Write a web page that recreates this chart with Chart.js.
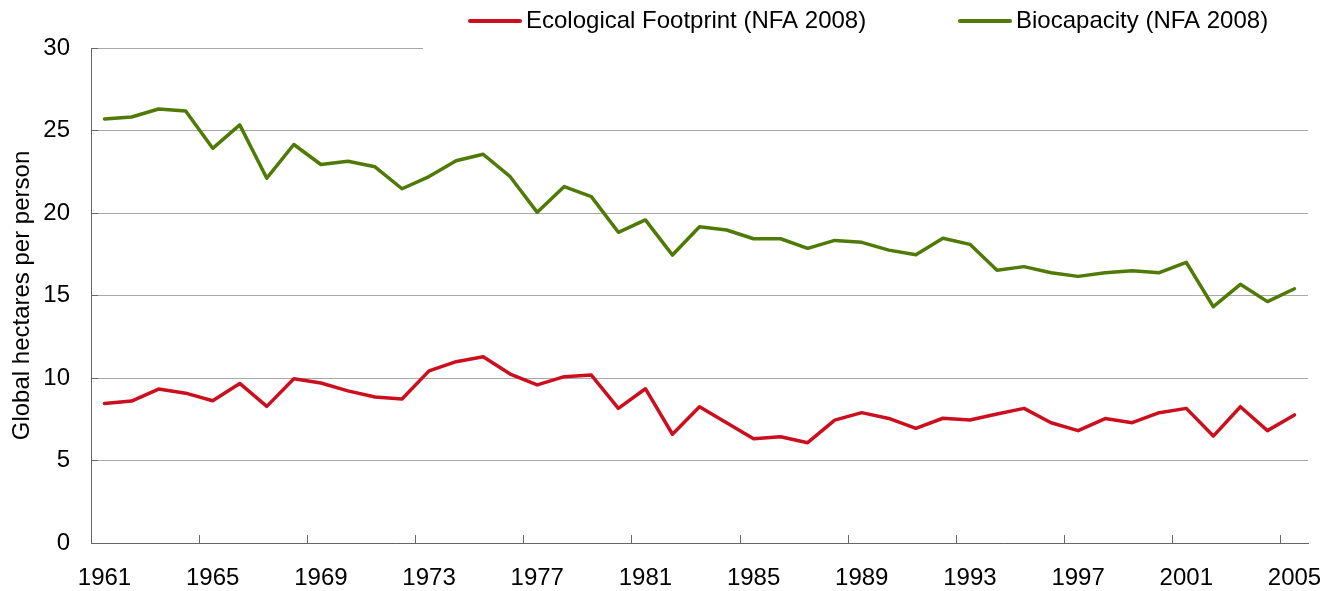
<!DOCTYPE html>
<html>
<head>
<meta charset="utf-8">
<title>Ecological Footprint vs Biocapacity</title>
<script src="https://cdn.jsdelivr.net/npm/chart.js@4/dist/chart.umd.min.js"></script>
<style>
  html, body { margin: 0; padding: 0; background: #fff; }
  #wrap { width: 1328px; height: 591px; position: relative; }
</style>
</head>
<body>
<div id="wrap"><canvas id="chart"></canvas></div>
<script>
// ─── Data ─────────────────────────────────────────────────────────────────────

const YEARS = [
  "1961", "1962", "1963", "1964", "1965", "1966", "1967", "1968", "1969", "1970",
  "1971", "1972", "1973", "1974", "1975", "1976", "1977", "1978", "1979", "1980",
  "1981", "1982", "1983", "1984", "1985", "1986", "1987", "1988", "1989", "1990",
  "1991", "1992", "1993", "1994", "1995", "1996", "1997", "1998", "1999", "2000",
  "2001", "2002", "2003", "2004", "2005",
];

const FOOTPRINT = [
  8.46, 8.60, 9.33, 9.08, 8.62, 9.67, 8.28, 9.95, 9.70, 9.22,
  8.85, 8.73, 10.43, 10.99, 11.29, 10.24, 9.58, 10.08, 10.18, 8.16,
  9.35, 6.59, 8.26, 7.29, 6.32, 6.44, 6.08, 7.45, 7.90, 7.55,
  6.95, 7.56, 7.45, 7.82, 8.16, 7.29, 6.81, 7.54, 7.29, 7.90,
  8.16, 6.48, 8.26, 6.81, 7.76,
];

const BIOCAPACITY = [
  25.70, 25.82, 26.30, 26.18, 23.92, 25.34, 22.11, 24.15, 22.94, 23.14,
  22.80, 21.47, 22.21, 23.17, 23.56, 22.20, 20.04, 21.60, 20.99, 18.83,
  19.58, 17.45, 19.17, 18.97, 18.44, 18.44, 17.86, 18.34, 18.22, 17.75,
  17.47, 18.47, 18.10, 16.53, 16.75, 16.38, 16.16, 16.38, 16.50, 16.38,
  17.01, 14.32, 15.68, 14.63, 15.41,
];

const SERIES_LABELS = ["Ecological Footprint (NFA 2008)", "Biocapacity (NFA 2008)"];
const LABELED_YEARS = ["1961", "1965", "1969", "1973", "1977", "1981", "1985", "1989", "1993", "1997", "2001", "2005"];
const Y_MIN = 0;
const Y_MAX = 30;
const Y_STEP = 5;
const Y_TITLE = "Global hectares per person";

// ─── Style ────────────────────────────────────────────────────────────────────

const FONT_FAMILY = "'Liberation Sans', Arial, sans-serif";
const FONT_SIZE   = 24;
const RED         = "#CC0F1E";
const GREEN       = "#4F7A06";
const GRID_COLOR  = "#a8a8a8";
const AXIS_COLOR  = "#666666";
const TEXT_COLOR  = "#000000";

// ─── Plugins ──────────────────────────────────────────────────────────────────

// white legend box sitting over the top gridline, like the source chart
const legendBoxPlugin = {
  id: "legendBox",
  beforeDatasetsDraw(chart) {
    const { ctx, chartArea } = chart;
    ctx.save();
    ctx.fillStyle = "#fff";
    ctx.fillRect(423, 0, chartArea.right - 423 + 2, chartArea.top + 2);
    ctx.restore();
  },
};

// line-sample legend drawn by hand so the spacing matches
const LEGEND_X = [470, 960];
const legendPlugin = {
  id: "lineLegend",
  afterDraw(chart) {
    const { ctx } = chart;
    ctx.save();
    ctx.font = `${FONT_SIZE}px ${FONT_FAMILY}`;
    ctx.textBaseline = "alphabetic";
    ctx.textAlign = "left";
    chart.data.datasets.forEach((ds, i) => {
      const x = LEGEND_X[i];
      ctx.strokeStyle = ds.borderColor;
      ctx.lineWidth = 4;
      ctx.lineCap = "round";
      ctx.beginPath();
      ctx.moveTo(x, 21);
      ctx.lineTo(x + 50, 21);
      ctx.stroke();
      ctx.fillStyle = TEXT_COLOR;
      ctx.fillText(ds.label, x + 56, 27.5);
    });
    ctx.restore();
  },
};

// ─── Chart ────────────────────────────────────────────────────────────────────

function buildDataset(label, data, color) {
  return {
    label,
    data,
    borderColor: color,
    backgroundColor: color,
    borderWidth: 3.5,
    borderJoinStyle: "round",
    borderCapStyle: "round",
    tension: 0,
    pointRadius: 0,
    pointHoverRadius: 0,
    fill: false,
  };
}

const tickFont = { family: FONT_FAMILY, size: FONT_SIZE };

new Chart(document.getElementById("chart").getContext("2d"), {
  type: "line",
  data: {
    labels: YEARS,
    datasets: [
      buildDataset(SERIES_LABELS[0], FOOTPRINT, RED),
      buildDataset(SERIES_LABELS[1], BIOCAPACITY, GREEN),
    ],
  },
  options: {
    responsive: true,
    maintainAspectRatio: false,
    animation: false,
    layout: { padding: { top: 48, right: 20, left: 0, bottom: 0 } },
    plugins: {
      legend: { display: false },
      tooltip: { enabled: false },
    },
    scales: {
      x: {
        type: "category",
        offset: true,
        afterFit: (s) => {
          s.height = 48;
          s.paddingLeft = 0;
          s.paddingRight = 0;
        },
        grid: {
          offset: true,
          drawOnChartArea: false,
          drawTicks: true,
          tickLength: -8,
          tickColor: (c) => (c.index % 4 === 0 ? AXIS_COLOR : "rgba(0,0,0,0)"),
        },
        border: { display: true, color: AXIS_COLOR, width: 1 },
        ticks: {
          autoSkip: false,
          maxRotation: 0,
          minRotation: 0,
          padding: 29,
          color: TEXT_COLOR,
          font: tickFont,
          callback: function (value) {
            const lbl = this.getLabelForValue(value);
            return LABELED_YEARS.includes(lbl) ? lbl : "";
          },
        },
      },
      y: {
        min: Y_MIN,
        max: Y_MAX,
        afterFit: (s) => { s.width = 91; },
        grid: {
          color: GRID_COLOR,
          lineWidth: 1,
          drawTicks: true,
          tickLength: -7,
          tickColor: AXIS_COLOR,
        },
        border: { display: true, color: AXIS_COLOR, width: 1 },
        ticks: {
          stepSize: Y_STEP,
          padding: 28,
          color: TEXT_COLOR,
          font: tickFont,
        },
        title: {
          display: true,
          text: Y_TITLE,
          color: TEXT_COLOR,
          font: tickFont,
          padding: { top: 8, bottom: 0 },
        },
      },
    },
  },
  plugins: [legendBoxPlugin, legendPlugin],
});
</script>
</body>
</html>
